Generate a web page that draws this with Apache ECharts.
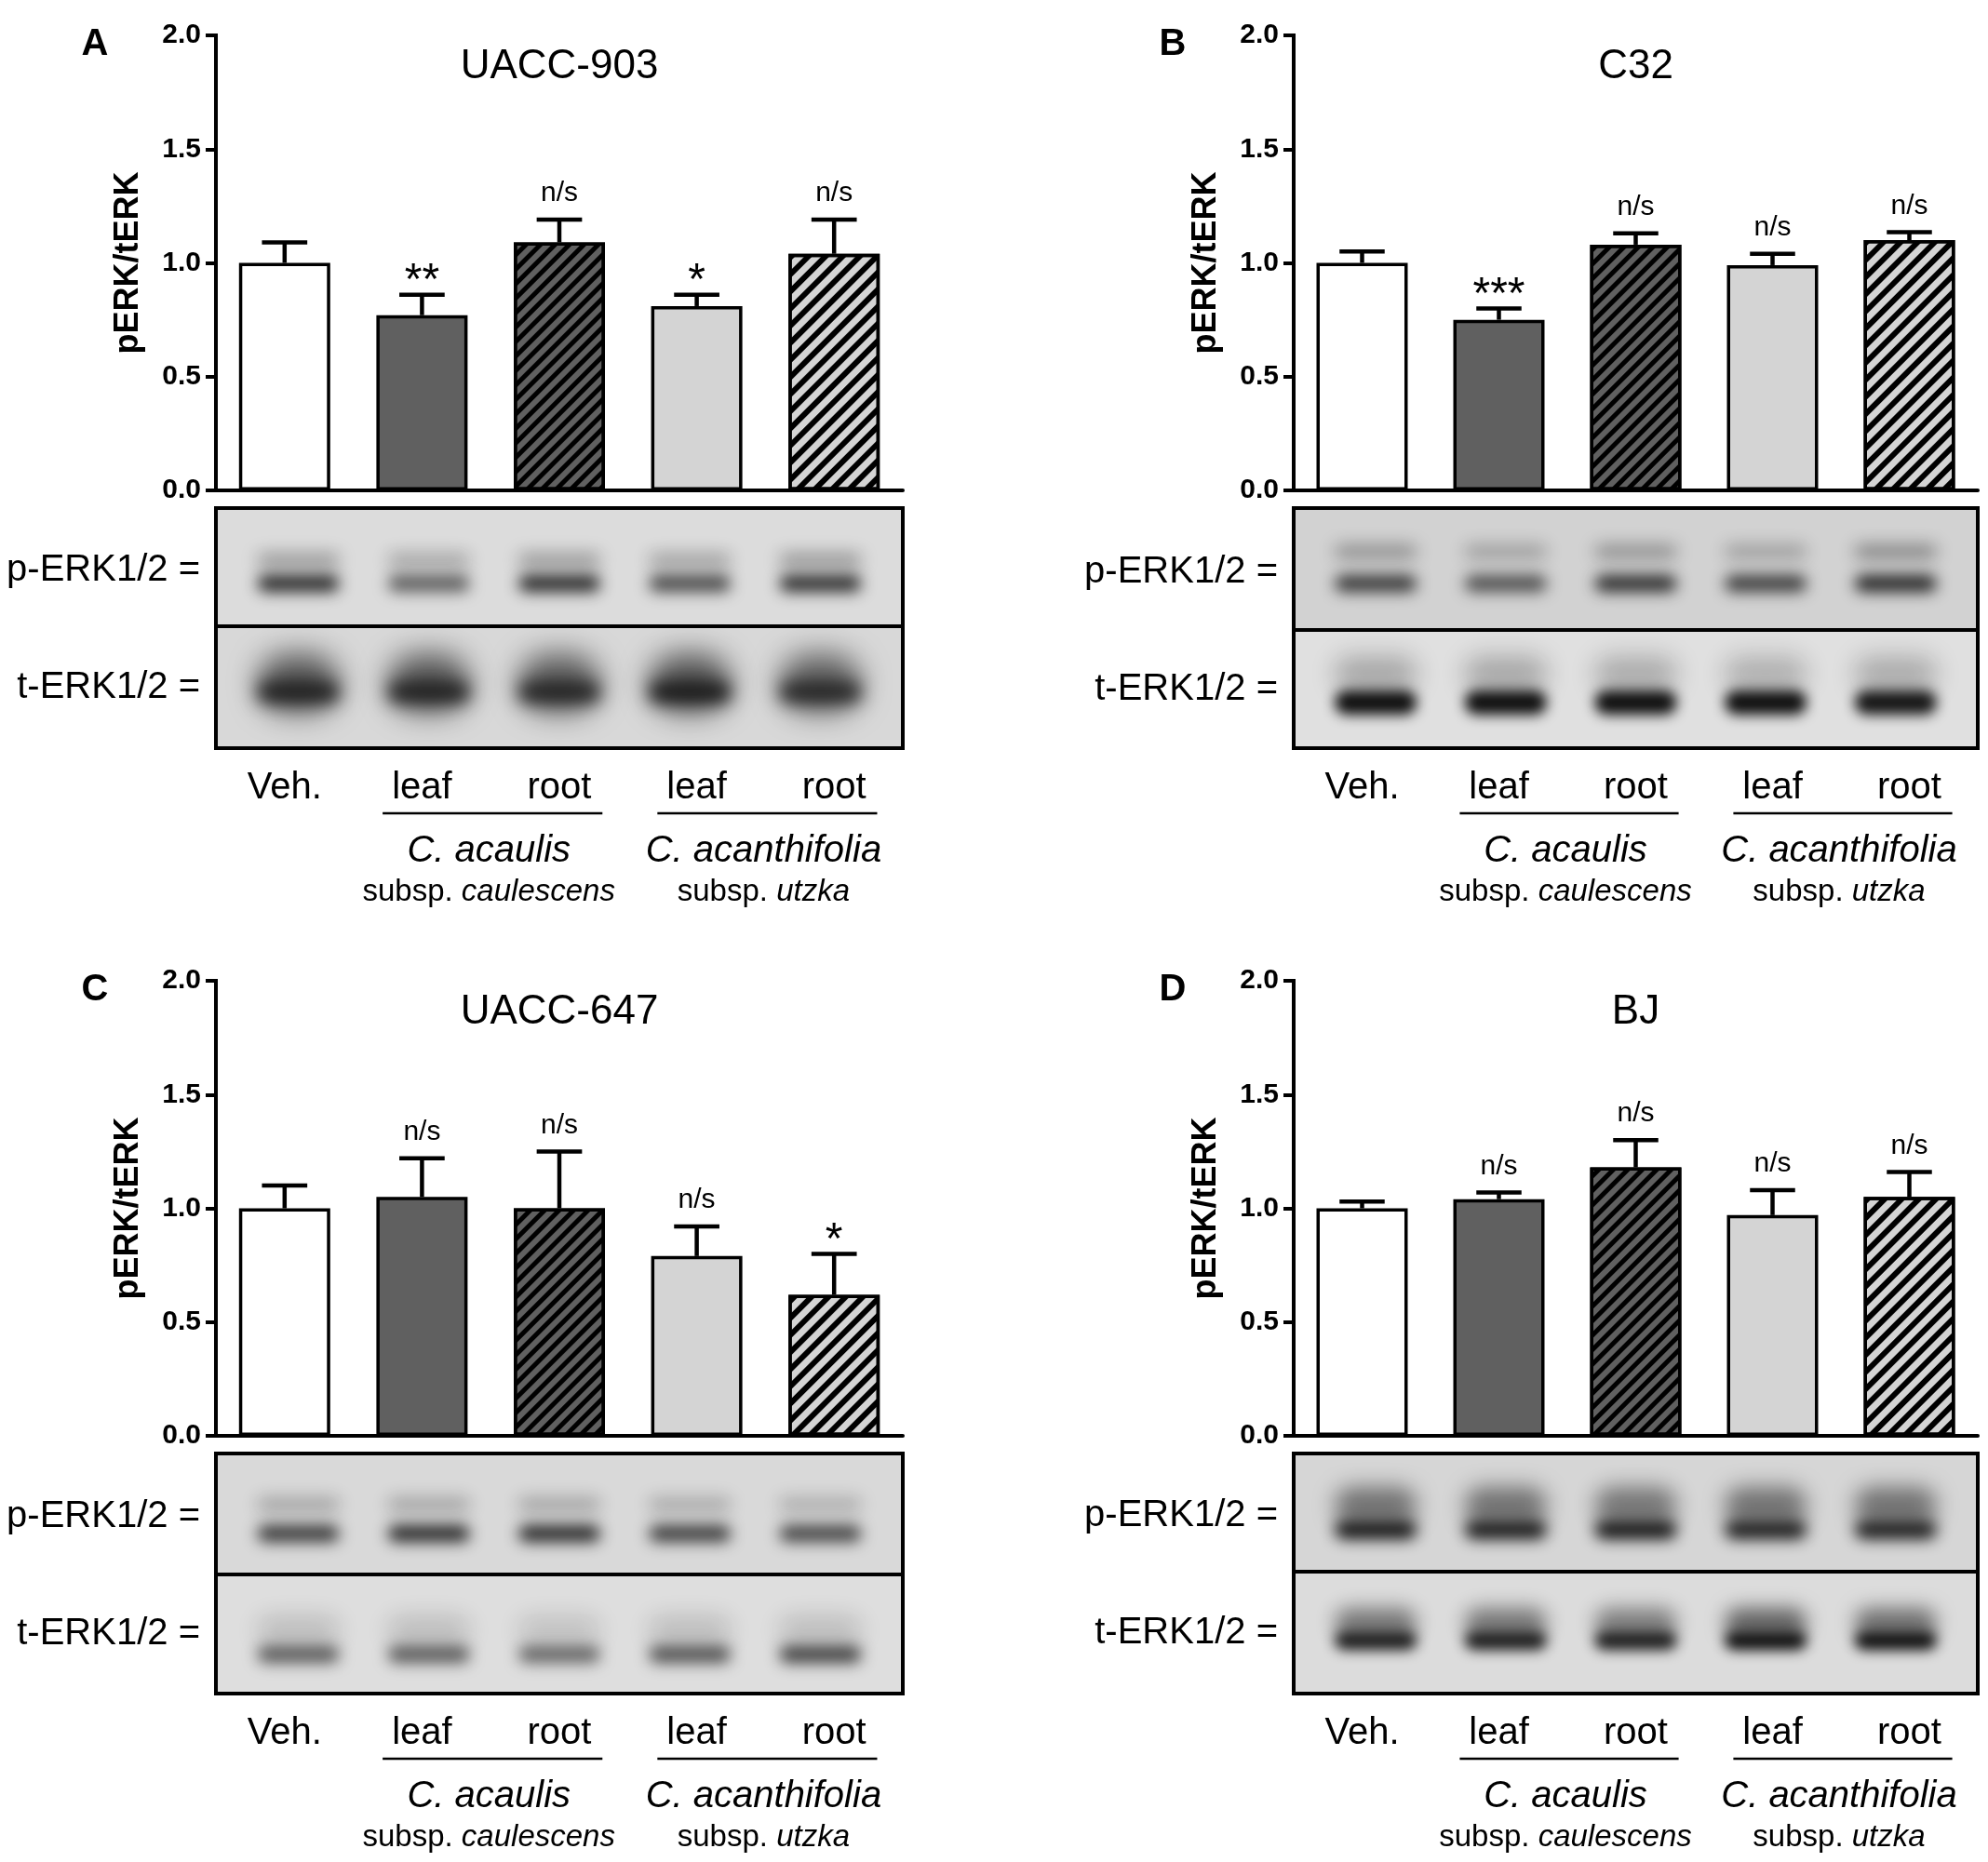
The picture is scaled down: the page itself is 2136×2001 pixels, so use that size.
<!DOCTYPE html>
<html>
<head>
<meta charset="utf-8">
<script src="https://cdn.jsdelivr.net/npm/echarts@6/dist/echarts.min.js"></script>
<style>
  html, body { margin: 0; padding: 0; background: #fff; }
  #chart { width: 2136px; height: 2001px; }
</style>
</head>
<body>
<div id="chart"></div>
<script>
const FONT = '"Liberation Sans", Arial, Helvetica, sans-serif';

// x categories and y scale
const categories = ['Veh.', 'leaf', 'root', 'leaf', 'root'];
const yMin = 0, yMax = 2, yStep = 0.5;

// bar means (pERK/tERK), SEM and significance marks, per panel
const meanA = [1.00, 0.77, 1.09, 0.81, 1.04];
const semA  = [0.09, 0.09, 0.10, 0.05, 0.15];
const sigA  = ['', '**', 'n/s', '*', 'n/s'];

const meanB = [1.00, 0.75, 1.08, 0.99, 1.10];
const semB  = [0.05, 0.05, 0.05, 0.05, 0.035];
const sigB  = ['', '***', 'n/s', 'n/s', 'n/s'];

const meanC = [1.00, 1.05, 1.00, 0.79, 0.62];
const semC  = [0.10, 0.17, 0.25, 0.13, 0.18];
const sigC  = ['', 'n/s', 'n/s', 'n/s', '*'];

const meanD = [1.00, 1.04, 1.18, 0.97, 1.05];
const semD  = [0.03, 0.03, 0.12, 0.11, 0.11];
const sigD  = ['', 'n/s', 'n/s', 'n/s', 'n/s'];

// western blot band darkness per lane: p-ERK upper, p-ERK lower, t-ERK smear, t-ERK main
const blotA = [
  [0.36, 0.30, 0.36, 0.32, 0.38],
  [0.88, 0.62, 0.88, 0.72, 0.86],
  [0.62, 0.62, 0.60, 0.64, 0.58],
  [0.84, 0.82, 0.80, 0.90, 0.78]
];
const blotB = [
  [0.38, 0.30, 0.38, 0.30, 0.44],
  [0.80, 0.68, 0.86, 0.78, 0.90],
  [0.28, 0.28, 0.26, 0.24, 0.26],
  [1.00, 1.00, 1.00, 1.00, 0.97]
];
const blotC = [
  [0.30, 0.30, 0.30, 0.27, 0.25],
  [0.80, 0.88, 0.88, 0.78, 0.74],
  [0.16, 0.16, 0.14, 0.16, 0.16],
  [0.64, 0.64, 0.58, 0.68, 0.76]
];
const blotD = [
  [0.50, 0.50, 0.48, 0.50, 0.50],
  [0.96, 0.94, 0.96, 0.92, 0.92],
  [0.48, 0.48, 0.45, 0.58, 0.52],
  [0.92, 0.92, 0.92, 1.00, 1.00]
];

const barFills = ['#ffffff', '#606060', '#606060', '#d4d4d4', '#d4d4d4'];
const darkHatch = { symbol: 'rect', symbolSize: 1, dashArrayX: [1, 0], dashArrayY: [5, 6], rotation: -Math.PI / 4, color: '#000' };
const lightHatch = { symbol: 'rect', symbolSize: 1, dashArrayX: [1, 0], dashArrayY: [6, 7], rotation: -Math.PI / 4, color: '#000' };
const barDecals = [null, null, darkHatch, null, lightHatch];
const laneFrac = [0.12, 0.31, 0.50, 0.69, 0.88];

const panels = [
  { letter: 'A', title: 'UACC-903', mean: meanA, sem: semA, sig: sigA, blot: blotA,
    grid: { left: 232, top: 38, width: 738, height: 489 }, divider: 146, bg: ['#dcdcdc', '#d8d8d8'],
    rows: [{ y: 56, h: 14, blur: 18 }, { y: 81, h: 18, blur: 16 }, { y: 188, h: 64, blur: 30 }, { y: 198, h: 22, blur: 18 }] },
  { letter: 'B', title: 'C32', mean: meanB, sem: semB, sig: sigB, blot: blotB,
    grid: { left: 1390, top: 38, width: 735, height: 489 }, divider: 150, bg: ['#d2d2d2', '#e0e0e0'],
    rows: [{ y: 47, h: 14, blur: 18 }, { y: 81, h: 18, blur: 16 }, { y: 178, h: 36, blur: 26 }, { y: 209, h: 26, blur: 14 }] },
  { letter: 'C', title: 'UACC-647', mean: meanC, sem: semC, sig: sigC, blot: blotC,
    grid: { left: 232, top: 1054, width: 738, height: 489 }, divider: 149, bg: ['#d9d9d9', '#dedede'],
    rows: [{ y: 55, h: 14, blur: 18 }, { y: 86, h: 18, blur: 16 }, { y: 190, h: 30, blur: 24 }, { y: 216, h: 18, blur: 16 }] },
  { letter: 'D', title: 'BJ', mean: meanD, sem: semD, sig: sigD, blot: blotD,
    grid: { left: 1390, top: 1054, width: 735, height: 489 }, divider: 146, bg: ['#d6d6d6', '#dcdcdc'],
    rows: [{ y: 56, h: 40, blur: 22 }, { y: 82, h: 20, blur: 16 }, { y: 182, h: 32, blur: 20 }, { y: 201, h: 20, blur: 14 }] }
];

function errorRenderer(sig) {
  return function (params, api) {
    const k = api.value(0);
    const base = api.coord([k, api.value(1)]);
    const tip = api.coord([k, api.value(1) + api.value(2)]);
    const half = api.size([1, 0])[0] * 0.165;
    const children = [
      { type: 'line', shape: { x1: base[0], y1: base[1], x2: tip[0], y2: tip[1] }, style: { stroke: '#000', lineWidth: 4.5 } },
      { type: 'line', shape: { x1: tip[0] - half, y1: tip[1], x2: tip[0] + half, y2: tip[1] }, style: { stroke: '#000', lineWidth: 4.5 } }
    ];
    const s = sig[params.dataIndex];
    if (s) {
      const star = s[0] === '*';
      children.push({
        type: 'text', x: tip[0], y: tip[1] - (star ? 14 : 28),
        style: { text: s, font: (star ? '48px ' : '30px ') + FONT, fill: '#000',
          align: 'center', verticalAlign: 'middle', textAlign: 'center', textVerticalAlign: 'middle' }
      });
    }
    return { type: 'group', children: children };
  };
}

function txt(x, y, text, size, opts) {
  opts = opts || {};
  return {
    type: 'text', x: x, y: y, z: 10,
    style: Object.assign({
      text: text, fill: '#000',
      font: (opts.weight || 'normal') + ' ' + size + 'px ' + FONT,
      align: opts.align || 'center', verticalAlign: 'middle',
      textAlign: opts.align || 'center', textVerticalAlign: 'middle'
    }, opts.extra || {})
  };
}

const chart = echarts.init(document.getElementById('chart'), null, { devicePixelRatio: 1 });

const option = {
  animation: false,
  backgroundColor: '#fff',
  grid: panels.map(p => Object.assign({ containLabel: false }, p.grid)),
  xAxis: panels.map((p, i) => ({
    type: 'category', gridIndex: i, data: categories,
    axisLine: { show: true, lineStyle: { color: '#000', width: 4 } },
    axisTick: { show: false },
    axisLabel: { interval: 0, margin: 300, fontSize: 40, fontFamily: FONT, color: '#000' }
  })),
  yAxis: panels.map((p, i) => ({
    type: 'value', gridIndex: i, min: yMin, max: yMax, interval: yStep,
    axisLine: { show: true, lineStyle: { color: '#000', width: 4, cap: 'square' } },
    axisTick: { show: true, length: 11, lineStyle: { color: '#000', width: 4 } },
    axisLabel: { margin: 16, fontSize: 30, fontWeight: 'bold', fontFamily: FONT, color: '#000', formatter: v => v.toFixed(1) },
    splitLine: { show: false },
    name: 'pERK/tERK', nameLocation: 'middle', nameGap: 76,
    nameTextStyle: { fontSize: 36, fontWeight: 'bold', fontFamily: FONT, color: '#000' }
  })),
  series: []
};

panels.forEach((p, i) => {
  option.series.push({
    type: 'bar', xAxisIndex: i, yAxisIndex: i, barWidth: 98, silent: true,
    data: p.mean.map((v, k) => ({
      value: v,
      itemStyle: { color: barFills[k], borderColor: '#000', borderWidth: 3.5, decal: barDecals[k] || undefined }
    }))
  });
  option.series.push({
    type: 'custom', xAxisIndex: i, yAxisIndex: i, silent: true, z: 5,
    data: p.mean.map((v, k) => [k, v, p.sem[k]]),
    renderItem: errorRenderer(p.sig)
  });
});

chart.setOption(option);

// annotations: titles, blots, group underlines and species names
const OFF = 5000; // bands are drawn off-canvas; only their blurred shadow shows
const graphics = [];
panels.forEach((p, i) => {
  const g = p.grid;
  const y0 = g.top + g.height;
  const cx = g.left + g.width / 2;

  graphics.push(txt(g.left - 130, g.top + 10, p.letter, 40, { weight: 'bold' }));
  graphics.push(txt(cx, g.top + 34, p.title, 44));

  // blot image
  const top = y0 + 19, bottom = y0 + 277, mid = y0 + p.divider;
  graphics.push({ type: 'rect', shape: { x: g.left, y: top, width: g.width, height: mid - top }, style: { fill: p.bg[0] } });
  graphics.push({ type: 'rect', shape: { x: g.left, y: mid, width: g.width, height: bottom - mid }, style: { fill: p.bg[1] } });
  p.rows.forEach((row, r) => {
    p.blot[r].forEach((a, k) => {
      const lx = g.left + g.width * laneFrac[k];
      graphics.push({
        type: 'rect', z: 1,
        shape: { x: lx - 44 - OFF, y: top + row.y - row.h / 2, width: 88, height: row.h, r: row.h / 2 },
        style: { fill: '#000', shadowBlur: row.blur, shadowColor: 'rgba(15,15,15,' + a + ')', shadowOffsetX: OFF }
      });
    });
  });
  graphics.push({ type: 'rect', z: 2, shape: { x: g.left, y: top, width: g.width, height: bottom - top }, style: { fill: null, stroke: '#000', lineWidth: 4 } });
  graphics.push({ type: 'line', z: 2, shape: { x1: g.left, y1: mid, x2: g.left + g.width, y2: mid }, style: { stroke: '#000', lineWidth: 4 } });
  graphics.push(txt(g.left - 17, (top + mid) / 2 + 3, 'p-ERK1/2 =', 40, { align: 'right' }));
  graphics.push(txt(g.left - 17, (mid + bottom) / 2, 't-ERK1/2 =', 40, { align: 'right' }));

  // species groups under leaf/root pairs
  const band = g.width / categories.length;
  const groups = [
    { a: 1, b: 2, name: 'C. acaulis', sub: 'caulescens' },
    { a: 3, b: 4, name: 'C. acanthifolia', sub: 'utzka' }
  ];
  groups.forEach(gr => {
    const xa = chart.convertToPixel({ xAxisIndex: i }, gr.a);
    const xb = chart.convertToPixel({ xAxisIndex: i }, gr.b);
    const m = (xa + xb) / 2 + 2;
    graphics.push({ type: 'line', shape: { x1: m - 0.8 * band, y1: y0 + 347, x2: m + 0.8 * band, y2: y0 + 347 }, style: { stroke: '#000', lineWidth: 2.5 } });
    graphics.push(txt(m - 4, y0 + 388, gr.name, 40, { extra: { fontStyle: 'italic', font: 'italic 40px ' + FONT } }));
    graphics.push(txt(m - 4, y0 + 432, 'subsp. {i|' + gr.sub + '}', 33, {
      extra: { rich: { i: { fontStyle: 'italic', fontSize: 33, fontFamily: FONT } } }
    }));
  });
});

chart.setOption({ graphic: { elements: graphics } });
</script>
</body>
</html>
